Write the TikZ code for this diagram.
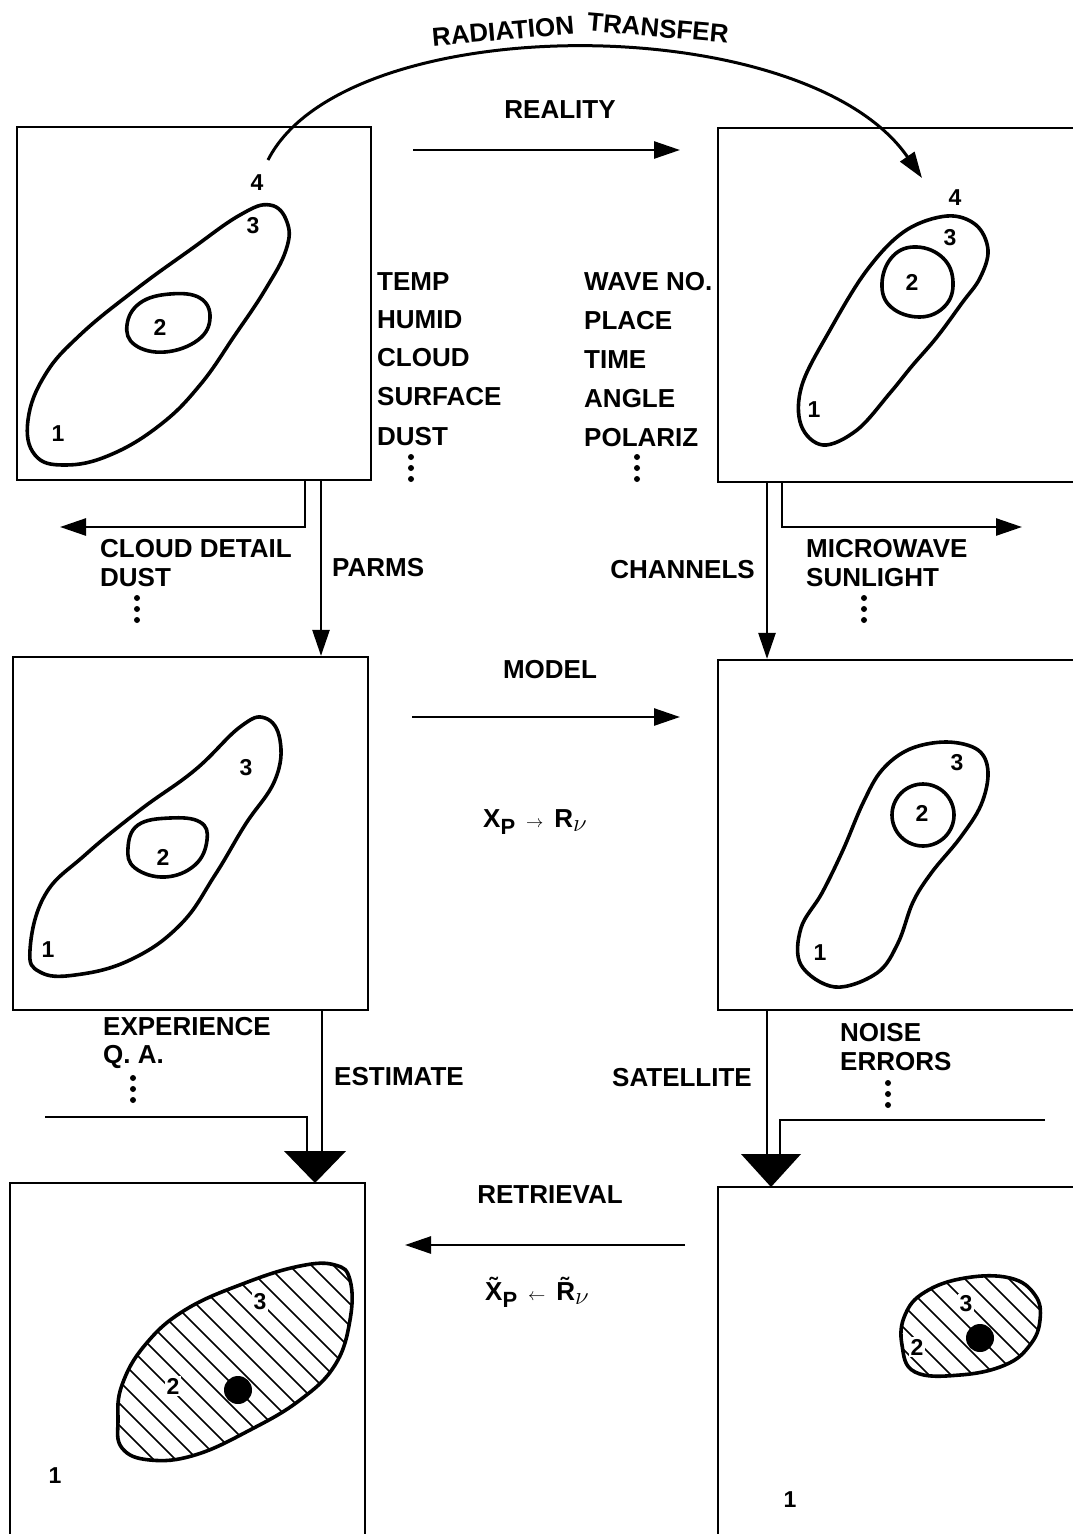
\documentclass[tikz,border=0pt]{standalone}
\usepackage{fontspec}
\setmainfont{Liberation Sans}
\usetikzlibrary{arrows.meta}

\begin{document}
\begin{tikzpicture}[x=1pt,y=-1pt,
  panel/.style={draw, line width=2.2pt, rectangle, inner sep=0pt},
  contour/.style={line width=3.6pt, line join=round},
  lbl/.style={font=\bfseries\fontsize{26}{30}\selectfont, inner sep=0pt},
  num/.style={font=\bfseries\fontsize{23}{27}\selectfont, inner sep=1.5pt},
  flow/.style={line width=2.6pt, -{Triangle[length=26pt,width=17pt]}},
  wire/.style={line width=2.6pt},
  bigtip/.style={fill=black},
  hatch/.style={line width=1.5pt},
  vdot/.style={fill=black, radius=3pt},
]
\useasboundingbox (0,0) rectangle (1073,1534);

% ---------- panels ----------
\node[panel, minimum width=354pt, minimum height=353pt] (tl) at (194,303.5) {};
\node[panel, minimum width=372pt, minimum height=354pt] (tr) at (904,305) {};
\node[panel, minimum width=355pt, minimum height=353pt] (ml) at (190.5,833.5) {};
\node[panel, minimum width=372pt, minimum height=350pt] (mr) at (904,835) {};
\node[panel, minimum width=355pt, minimum height=377pt] (bl) at (187.5,1371.5) {};
\node[panel, minimum width=372pt, minimum height=373pt] (br) at (904,1373.5) {};

% ---------- contours: reality ----------
\draw[contour] plot[smooth cycle, tension=0.7] coordinates {
  (28,420) (45,375) (80,335) (135,290) (190,250) (240,215) (270,205) (287,222)
  (286,250) (265,290) (235,335) (200,385) (160,425) (110,455) (65,465) (35,455)};
\draw[contour] plot[smooth cycle, tension=0.7] coordinates {
  (127,325) (140,303) (170,294) (200,298) (210,318) (198,340) (165,352) (135,345)};
\node[num] at (257,183) {4};
\node[num] at (253,226) {3};
\node[num] at (160,327) {2};
\node[num] at (58,434) {1};

\draw[contour] plot[smooth cycle, tension=0.6] coordinates {
  (947,216) (976,225) (988,250) (980,278) (962,303) (937,337) (912,366) (890,393)
  (857,430) (823,445) (801,425) (802,385) (830,330) (867,270) (905,231)};
\draw[contour] plot[smooth cycle, tension=0.7] coordinates {
  (882,283) (893,256) (917,247) (943,258) (953,282) (945,306) (920,317) (891,307)};
\node[num] at (955,198) {4};
\node[num] at (950,238) {3};
\node[num] at (912,282) {2};
\node[num] at (814,410) {1};

% ---------- contours: model ----------
\draw[contour] plot[smooth cycle, tension=0.7] coordinates {
  (30,950) (45,895) (85,855) (140,810) (195,770) (240,727) (265,718) (280,740)
  (275,780) (245,825) (215,875) (180,925) (130,960) (75,975) (40,972)};
\draw[contour] plot[smooth cycle, tension=0.7] coordinates {
  (128,848) (138,825) (170,818) (200,822) (207,840) (195,865) (165,877) (135,868)};
\node[num] at (246,768) {3};
\node[num] at (163,857) {2};
\node[num] at (48,950) {1};

\draw[contour] plot[smooth cycle, tension=0.6] coordinates {
  (947,742) (978,750) (988,772) (981,805) (960,838) (932,872) (913,902) (898,943)
  (877,973) (835,987) (801,965) (801,928) (822,893) (843,850) (863,803) (882,770)
  (910,749)};
\draw (923,815) [contour] circle[radius=31pt];
\node[num] at (957,763) {3};
\node[num] at (922,813) {2};
\node[num] at (820,953) {1};

% ---------- hatched retrieval regions ----------
\def\blregion{(118,1420) (122,1385) (145,1345) (185,1310) (245,1283) (300,1266)
  (335,1265) (350,1280) (350,1320) (335,1365) (300,1400) (250,1430) (195,1455)
  (150,1460) (122,1448)}
\begin{scope}
  \clip plot[smooth cycle, tension=0.7] coordinates {\blregion};
  \foreach \c in {-1350,-1328,...,-900}
    \draw[hatch] ({\c+1250},1250) -- ({\c+1480},1480);
\end{scope}
\draw[contour] plot[smooth cycle, tension=0.7] coordinates {\blregion};
\node[num, fill=white] at (260,1302) {3};
\node[num, fill=white] at (173,1386) {2};
\fill (238,1390) circle[radius=14pt];
\node[num] at (55,1476) {1};

\def\brregion{(902,1345) (905,1315) (925,1292) (965,1278) (1010,1278) (1035,1295)
  (1040,1320) (1030,1345) (1005,1365) (960,1375) (915,1372)}
\begin{scope}
  \clip plot[smooth cycle, tension=0.7] coordinates {\brregion};
  \foreach \c in {-490,-468,...,-230}
    \draw[hatch] ({\c+1265},1265) -- ({\c+1390},1390);
\end{scope}
\draw[contour] plot[smooth cycle, tension=0.7] coordinates {\brregion};
\node[num, fill=white] at (966,1304) {3};
\node[num, fill=white] at (917,1347) {2};
\fill (980,1338) circle[radius=14pt];
\node[num] at (790,1500) {1};

% ---------- radiation transfer arc ----------
\coordinate (radA) at (268,160);
\coordinate (radB) at (922,178);
\draw[line width=3pt, -{Triangle[length=26pt,width=17pt]}]
  (radA) .. controls (345,8) and (805,8) .. (radB);
\node[lbl, rotate=5] (radW1) at (503,31) {RADIATION};
\node[lbl, rotate=-5] (radW2) at (658,28) {TRANSFER};

% ---------- horizontal mappings ----------
\coordinate (realA) at (413,150);
\coordinate (realB) at (680,150);
\draw[flow] (realA) -- (realB);
\node[lbl] at (560,110) {REALITY};

\coordinate (modA) at (412,717);
\coordinate (modB) at (680,717);
\draw[flow] (modA) -- (modB);
\node[lbl] at (550,670) {MODEL};
\node[lbl] at (535,822) {X\raisebox{-7pt}{\fontsize{22}{24}\selectfont P}\hspace{11pt}$\scriptstyle\rightarrow$\hspace{11pt}R\raisebox{-4pt}{$\nu$}};

\coordinate (retA) at (685,1245);
\coordinate (retB) at (405,1245);
\draw[flow] (retA) -- (retB);
\node[lbl] at (550,1195) {RETRIEVAL};
\node[lbl] at (537,1292) {\~{X}\raisebox{-7pt}{\fontsize{22}{24}\selectfont P}\hspace{11pt}$\scriptstyle\leftarrow$\hspace{11pt}\~{R}\raisebox{-4pt}{$\nu$}};

% ---------- variable lists ----------
\foreach \t/\y in {TEMP/282, HUMID/320, CLOUD/358, SURFACE/397, DUST/437}
  \node[lbl, anchor=west] at (377,\y) {\t};
\foreach \y in {457,468,479} \fill (411,\y) circle[vdot];
\foreach \t/\y in {WAVE NO./282, PLACE/321, TIME/360, ANGLE/399, POLARIZ/438}
  \node[lbl, anchor=west] at (584,\y) {\t};
\foreach \y in {457,468,479} \fill (637,\y) circle[vdot];

% ---------- reality -> model ----------
\coordinate (parms) at (321,0);
\draw[flow] (parms |- tl.south) -- (parms |- ml.north);
\node[lbl, anchor=west] at (332,568) {PARMS};

\coordinate (cdTurn) at (305,527);
\coordinate (cdEnd) at (60,527);
\draw[flow] (cdTurn |- tl.south) -- (cdTurn) -- (cdEnd);
\node[lbl, anchor=west] at (100,549) {CLOUD DETAIL};
\node[lbl, anchor=west] at (100,578) {DUST};
\foreach \y in {598,609,620} \fill (137,\y) circle[vdot];

\coordinate (chan) at (767,0);
\draw[flow] (chan |- tr.south) -- (chan |- mr.north);
\node[lbl, anchor=east] at (755,570) {CHANNELS};

\coordinate (mwTurn) at (782,527);
\coordinate (mwEnd) at (1022,527);
\draw[flow] (mwTurn |- tr.south) -- (mwTurn) -- (mwEnd);
\node[lbl, anchor=west] at (806,549) {MICROWAVE};
\node[lbl, anchor=west] at (806,578) {SUNLIGHT};
\foreach \y in {598,609,620} \fill (864,\y) circle[vdot];

% ---------- model -> retrieval ----------
\coordinate (est) at (322,1155);
\coordinate (expIn) at (45,1117);
\coordinate (expTurn) at (307,1117);
\coordinate (expEnd) at (307,1155);
\draw[wire] (est |- ml.south) -- (est);
\draw[wire] (expIn) -- (expTurn) -- (expEnd);
\fill[bigtip] (284,1151) -- (346,1151) -- (315,1183) -- cycle;
\node[lbl, anchor=west] at (103,1027) {EXPERIENCE};
\node[lbl, anchor=west] at (103,1057) {Q. A.};
\foreach \y in {1078,1089,1100} \fill (133,\y) circle[vdot];
\node[lbl, anchor=west] at (334,1077) {ESTIMATE};

\coordinate (sat) at (767,1157);
\coordinate (noiseIn) at (1045,1120);
\coordinate (noiseTurn) at (780,1120);
\coordinate (noiseEnd) at (780,1157);
\draw[wire] (sat |- mr.south) -- (sat);
\draw[wire] (noiseIn) -- (noiseTurn) -- (noiseEnd);
\fill[bigtip] (741,1154) -- (801,1154) -- (771,1187) -- cycle;
\node[lbl, anchor=west] at (840,1033) {NOISE};
\node[lbl, anchor=west] at (840,1062) {ERRORS};
\foreach \y in {1083,1094,1105} \fill (888,\y) circle[vdot];
\node[lbl, anchor=east] at (752,1078) {SATELLITE};
\end{tikzpicture}
\end{document}
